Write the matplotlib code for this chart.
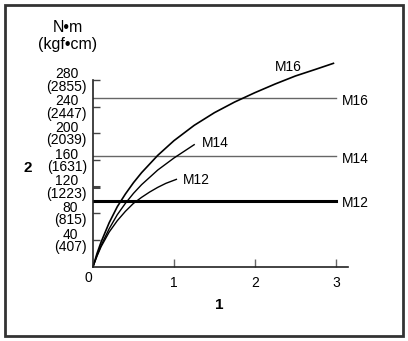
import matplotlib.pyplot as plt
from matplotlib.patches import Rectangle

plt.rcParams['font.family'] = ['Liberation Sans', 'DejaVu Sans']

# torque curves (x = turns, y = N*m)
m16_x = [0, 0.05, 0.1, 0.2, 0.3, 0.4, 0.5, 0.6, 0.8, 1.0, 1.25, 1.5, 1.75, 2.0, 2.25, 2.5, 2.75, 2.97]
m16_y = [0, 20, 37, 66, 90, 109, 126, 141, 167, 189, 212, 231, 247, 261, 274, 286, 296, 305]

m14_x = [0, 0.05, 0.1, 0.2, 0.3, 0.4, 0.5, 0.6, 0.8, 1.0, 1.1, 1.25]
m14_y = [0, 17, 32, 57, 78, 95, 110, 123, 145, 163, 171, 183]

m12_x = [0, 0.05, 0.1, 0.2, 0.3, 0.4, 0.5, 0.6, 0.7, 0.8, 0.9, 1.03]
m12_y = [0, 16, 30, 52, 69, 83, 95, 104, 112, 119, 125, 131]

# limit lines
limit_names = ['M16', 'M14', 'M12']
limit_values = [253, 166, 99]

y_ticks = [40, 80, 120, 160, 200, 240, 280]
y_labels = ['40\n(407)', '80\n(815)', '120\n(1223)', '160\n(1631)',
            '200\n(2039)', '240\n(2447)', '280\n(2855)']
x_ticks = [1, 2, 3]

W, H = 408, 341
fig = plt.figure(figsize=(W / 100, H / 100), dpi=100)
ax = fig.add_axes([93 / W, 1 - 266.7 / H, 255 / W, 186.7 / H])


def fig_text(px, py, s, **kw):
    # place text by pixel position in the figure
    fig.text(px / W, 1 - py / H, s, ha='center', va='center', **kw)


# frame around the whole picture
fig.patches.append(Rectangle((5 / W, 1 - 336 / H), 398 / W, 331 / H,
                             transform=fig.transFigure, fill=False,
                             edgecolor='#333333', linewidth=2))

# horizontal limit lines
ax.plot([0, 3], [limit_values[0]] * 2, color='#666666', linewidth=1.0)
ax.plot([0, 3], [limit_values[1]] * 2, color='#666666', linewidth=1.0)
ax.plot([0, 3], [limit_values[2]] * 2, color='black', linewidth=2.2)
for name, val in zip(limit_names, limit_values):
    ax.text(3.08, val - 4, name, fontsize=10, va='center', ha='left')

# curves
ax.plot(m16_x, m16_y, color='black', linewidth=1.2, clip_on=False)
ax.plot(m14_x, m14_y, color='black', linewidth=1.0)
ax.plot(m12_x, m12_y, color='black', linewidth=1.0)
ax.text(2.25, 300, 'M16', fontsize=10, va='center', ha='left')
ax.text(1.34, 185, 'M14', fontsize=10, va='center', ha='left')
ax.text(1.11, 130, 'M12', fontsize=10, va='center', ha='left')

ax.set_xlim(0, 3.15)
ax.set_ylim(0, 280)
for s in ['top', 'right']:
    ax.spines[s].set_visible(False)
for s in ['left', 'bottom']:
    ax.spines[s].set_color('#222222')
    ax.spines[s].set_linewidth(1.2)

ax.set_yticks(y_ticks)
ax.set_yticklabels(y_labels, fontsize=10, linespacing=0.85, multialignment='center')
ax.set_xticks(x_ticks)
ax.set_xticklabels([str(t) for t in x_ticks], fontsize=10)
ax.tick_params(axis='y', direction='in', length=5, width=1.0, color='#444444', pad=4.5)
ax.tick_params(axis='x', direction='in', length=6, width=1.0, color='#666666', pad=7)
# the 120 tick is drawn heavier in the original
ax.yaxis.get_major_ticks()[2].tick1line.set_markeredgewidth(2.2)
ax.yaxis.get_major_ticks()[2].tick1line.set_color('black')

fig_text(88, 278, '0', fontsize=10)

# units and axis names
fig_text(68, 28, 'N\u2022m', fontsize=11.5)
fig_text(67.5, 44, '(kgf\u2022cm)', fontsize=11.5)
fig_text(28, 168, '2', fontsize=11, fontweight='bold')
fig_text(219, 305, '1', fontsize=11, fontweight='bold')

fig.savefig('out.png', dpi=100)
